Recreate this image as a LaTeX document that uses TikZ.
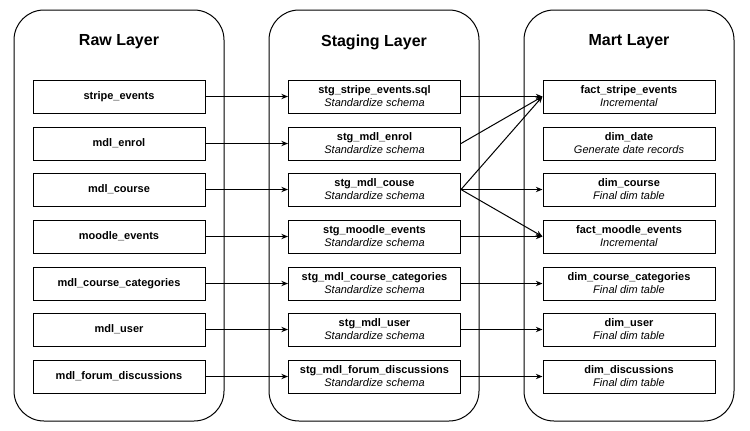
\documentclass[tikz,border=0pt]{standalone}
\usepackage{fontspec}
\setmainfont{Liberation Sans}
\usetikzlibrary{arrows.meta}
\newcommand\twoline[2]{\textbf{#1}\\\textit{#2}}
\begin{document}
\begin{tikzpicture}[x=0.75pt,y=-0.75pt,
  layerbox/.style={draw=black, line width=0.75pt, rounded corners=22.5pt, minimum width=157.5pt, minimum height=308.25pt, inner sep=0pt},
  ltitle/.style={font=\fontsize{12}{14}\selectfont\bfseries},
  tbl/.style={draw=black, line width=0.75pt, minimum width=129pt, minimum height=24.75pt, inner sep=0pt, align=center, font=\fontsize{8.25}{9.75}\selectfont},
  flow/.style={draw=black, line width=0.75pt, -{Stealth[length=5pt,width=4pt]}},
]
\useasboundingbox (0,0) rectangle (750,430);
% containers
\node[layerbox] (raw) at (119,215.5) {};
\node[layerbox] (stg) at (374,215.5) {};
\node[layerbox] (mart) at (629,215.5) {};
\node[ltitle] (rawt) at (119,42) {Raw Layer};
\node[ltitle] (stgt) at (374,42) {Staging Layer};
\node[ltitle] (martt) at (629,42) {Mart Layer};
% raw
\node[tbl] (r1) at (119,96.5) {\textbf{stripe\_events}};
\node[tbl] (r2) at (119,143.5) {\textbf{mdl\_enrol}};
\node[tbl] (r3) at (119,189.5) {\textbf{mdl\_course}};
\node[tbl] (r4) at (119,236.5) {\textbf{moodle\_events}};
\node[tbl] (r5) at (119,283.5) {\textbf{mdl\_course\_categories}};
\node[tbl] (r6) at (119,329.5) {\textbf{mdl\_user}};
\node[tbl] (r7) at (119,376.5) {\textbf{mdl\_forum\_discussions}};
% staging
\node[tbl] (s1) at (374.5,96.5) {\twoline{stg\_stripe\_events.sql}{Standardize schema}};
\node[tbl] (s2) at (374.5,143.5) {\twoline{stg\_mdl\_enrol}{Standardize schema}};
\node[tbl] (s3) at (374.5,189.5) {\twoline{stg\_mdl\_couse}{Standardize schema}};
\node[tbl] (s4) at (374.5,236.5) {\twoline{stg\_moodle\_events}{Standardize schema}};
\node[tbl] (s5) at (374.5,283.5) {\twoline{stg\_mdl\_course\_categories}{Standardize schema}};
\node[tbl] (s6) at (374.5,329.5) {\twoline{stg\_mdl\_user}{Standardize schema}};
\node[tbl] (s7) at (374.5,376.5) {\twoline{stg\_mdl\_forum\_discussions}{Standardize schema}};
% mart
\node[tbl] (m1) at (629,96.5) {\twoline{fact\_stripe\_events}{Incremental}};
\node[tbl] (m2) at (629,143.5) {\twoline{dim\_date}{Generate date records}};
\node[tbl] (m3) at (629,189.5) {\twoline{dim\_course}{Final dim table}};
\node[tbl] (m4) at (629,236.5) {\twoline{fact\_moodle\_events}{Incremental}};
\node[tbl] (m5) at (629,283.5) {\twoline{dim\_course\_categories}{Final dim table}};
\node[tbl] (m6) at (629,329.5) {\twoline{dim\_user}{Final dim table}};
\node[tbl] (m7) at (629,376.5) {\twoline{dim\_discussions}{Final dim table}};
% raw -> staging
\foreach \i in {1,...,7} {\draw[flow] (r\i.east) -- (s\i.west);}
% staging -> mart
\draw[flow] (s1.east) -- (m1.west);
\draw[flow] (s2.east) -- (m1.west);
\draw[flow] (s3.east) -- (m1.west);
\draw[flow] (s3.east) -- (m3.west);
\draw[flow] (s3.east) -- (m4.west);
\draw[flow] (s4.east) -- (m4.west);
\draw[flow] (s5.east) -- (m5.west);
\draw[flow] (s6.east) -- (m6.west);
\draw[flow] (s7.east) -- (m7.west);
\end{tikzpicture}
\end{document}
